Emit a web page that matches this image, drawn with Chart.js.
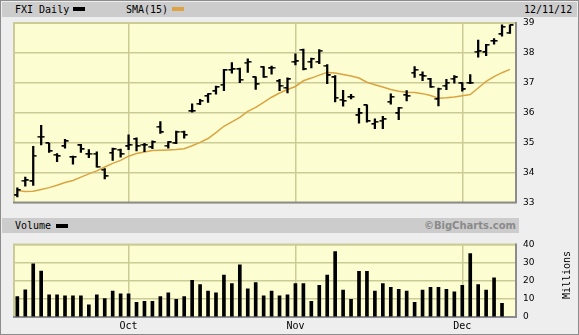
<!DOCTYPE html>
<html>
<head>
<meta charset="utf-8">
<script src="https://cdn.jsdelivr.net/npm/chart.js@4/dist/chart.umd.min.js"></script>
<style>
html, body { margin: 0; padding: 0; background: #eeeeee; }
#wrap { position: relative; width: 579px; height: 335px; overflow: hidden; background: #eeeeee;
  box-shadow: inset 0 0 0 1px #8c8c8c; font-family: "DejaVu Sans Mono", monospace; font-size: 10px; }
.strip { position: absolute; background: #cccccc; }
.txt { position: absolute; white-space: nowrap; line-height: 12px; color: #000; }
.sw { position: absolute; width: 12px; height: 4px; }
canvas { position: absolute; left: 0; }
</style>
</head>
<body>
<div id="wrap">
  <canvas id="price" width="579" height="215" style="top:0"></canvas>
  <canvas id="volume" width="579" height="103" style="top:232px"></canvas>

  <div class="strip" style="left:2px;top:2px;width:575px;height:15px"></div>
  <div class="txt" style="left:15px;top:4px">FXI Daily</div>
  <div class="sw" style="left:73px;top:7px;background:#000"></div>
  <div class="txt" style="left:126px;top:4px">SMA(15)</div>
  <div class="sw" style="left:172px;top:7px;background:#dda244"></div>
  <div class="txt" style="left:524px;top:4px">12/11/12</div>

  <div class="strip" style="left:2px;top:218px;width:517px;height:15px"></div>
  <div class="txt" style="left:15px;top:220px">Volume</div>
  <div class="sw" style="left:56px;top:224px;background:#000"></div>
  <div class="txt" style="right:63px;top:220px;font-family:'DejaVu Sans';font-weight:bold;color:#8a8a8a">©BigCharts.com</div>
  <div class="txt" style="left:537px;top:269px;width:60px;text-align:center;transform:rotate(-90deg)">Millions</div>
</div>

<script>
// FXI daily, 9/11/12 - 12/11/12
var dates = ['9/11','9/12','9/13','9/14','9/17','9/18','9/19','9/20','9/21','9/24','9/25','9/26','9/27','9/28',
  '10/1','10/2','10/3','10/4','10/5','10/8','10/9','10/10','10/11','10/12','10/15','10/16','10/17','10/18','10/19',
  '10/22','10/23','10/24','10/25','10/26','10/31',
  '11/1','11/2','11/5','11/6','11/7','11/8','11/9','11/12','11/13','11/14','11/15','11/16','11/19','11/20','11/21',
  '11/23','11/26','11/27','11/28','11/29','11/30',
  '12/3','12/4','12/5','12/6','12/7','12/10','12/11'];

var opens = [33.24,33.73,33.71,35.20,34.98,34.60,34.88,34.52,34.91,34.62,34.64,34.10,34.66,34.77,
  34.88,35.12,34.93,34.85,35.53,34.90,34.98,35.37,36.05,36.30,36.56,36.72,36.94,37.43,37.46,
  37.68,37.18,37.52,37.48,37.05,36.83,
  37.70,38.10,37.70,37.70,37.58,37.18,36.44,36.53,35.91,36.25,35.62,35.74,36.37,35.98,36.59,
  37.34,37.26,37.12,36.45,36.90,37.14,
  36.98,37.00,38.04,38.02,38.40,38.62,38.68];
var highs = [33.49,33.85,34.88,35.58,34.99,34.64,35.11,34.55,34.95,34.77,34.70,34.14,34.82,34.79,
  35.26,35.16,34.98,35.06,35.71,35.04,35.39,35.39,36.30,36.45,36.64,36.89,37.45,37.68,37.49,
  37.80,37.20,37.54,37.56,37.12,37.17,
  37.97,38.13,37.83,38.11,37.61,37.24,36.75,36.62,36.15,36.27,35.80,35.88,36.63,36.18,36.74,
  37.54,37.37,37.15,36.83,37.12,37.24,
  37.01,37.28,38.43,38.29,38.48,38.94,38.94];
var lows = [33.19,33.55,33.57,34.93,34.68,34.37,34.82,34.28,34.68,34.50,34.18,33.79,34.41,34.52,
  34.77,34.73,34.70,34.80,35.31,34.82,34.97,35.15,36.02,36.27,36.35,36.62,36.74,37.32,37.01,
  37.35,36.78,37.18,37.29,36.74,36.66,
  37.60,37.43,37.50,37.64,36.97,36.36,36.22,36.46,35.65,35.69,35.47,35.47,36.29,35.77,36.40,
  37.18,37.07,36.85,36.23,36.77,36.99,
  36.72,36.97,37.86,37.91,38.29,38.56,38.65];
var closes = [33.42,33.74,34.57,35.20,34.72,34.55,35.05,34.52,34.78,34.64,34.20,33.88,34.78,34.62,
  34.92,34.88,34.93,35.02,35.35,35.01,35.37,35.26,36.06,36.40,36.63,36.86,37.42,37.45,37.10,
  37.70,36.95,37.19,37.50,36.90,37.12,
  37.72,37.45,37.80,38.08,37.25,36.50,36.40,36.53,35.98,35.72,35.70,35.78,36.53,36.17,36.55,
  37.43,37.22,36.86,36.81,37.00,37.18,
  36.78,37.00,38.05,38.27,38.40,38.87,38.92];
var sma15 = [33.40,33.37,33.38,33.44,33.50,33.58,33.67,33.74,33.85,33.96,34.06,34.19,34.31,34.41,
  34.55,34.64,34.69,34.74,34.75,34.76,34.77,34.80,34.90,35.01,35.14,35.34,35.55,35.70,35.85,
  36.05,36.18,36.35,36.52,36.66,36.78,
  36.88,37.07,37.16,37.26,37.35,37.33,37.28,37.23,37.16,37.02,36.94,36.86,36.78,36.72,36.69,
  36.68,36.64,36.58,36.49,36.50,36.53,
  36.57,36.61,36.83,37.05,37.21,37.34,37.45];
// volume, millions of shares
var volumes = [11.2,15.0,29.3,25.3,12.2,12.2,11.7,11.7,11.7,6.7,12.2,10.2,14.3,12.8,
  12.8,8.1,8.6,8.6,11.2,13.3,9.7,11.2,20.2,17.9,14.3,13.3,23.1,18.4,28.8,
  15.5,19.0,11.7,14.3,11.7,12.2,
  18.4,18.4,8.6,17.4,23.1,36.0,14.8,9.7,25.2,25.2,14.3,18.4,16.4,15.3,14.3,
  8.1,14.8,16.4,16.4,15.3,
  13.8,17.4,35.0,17.9,14.8,21.6,7.6];
var monthLabels = ['Oct', 'Nov', 'Dec'];

// first trading day of each new month -> vertical grid + label
var monthStarts = [];
dates.forEach(function(d, i) {
  if (i > 0 && d.split('/')[0] !== dates[i - 1].split('/')[0]) monthStarts.push(i);
});

var GRID = '#cbcb95';
var xMin = -0.42, xMax = 62.76;

Chart.defaults.font.family = 'DejaVu Sans';
Chart.defaults.animation = false;

function tickImage(side) {
  var c = document.createElement('canvas');
  c.width = 8; c.height = 2;
  var g = c.getContext('2d');
  g.fillStyle = '#000';
  g.fillRect(side == 'left' ? 0.5 : 4, 0, 3.5, 1.6);
  return c;
}

function points(arr) {
  return arr.map(function(v, i) { return {x: i, y: v}; });
}

var plotFrame = {
  id: 'plotFrame',
  beforeDraw: function(chart) {
    var a = chart.chartArea, ctx = chart.ctx;
    ctx.save();
    ctx.fillStyle = '#fdfdd2';
    ctx.fillRect(a.left, a.top, a.right - a.left, a.bottom - a.top);
    ctx.restore();
  },
  beforeDatasetsDraw: function(chart) {
    var a = chart.chartArea, ctx = chart.ctx;
    ctx.save();
    ctx.lineWidth = 2;
    ctx.strokeStyle = GRID;
    ctx.beginPath();
    ctx.moveTo(a.left, a.bottom); ctx.lineTo(a.left, a.top); ctx.lineTo(a.right, a.top);
    ctx.stroke();
    ctx.strokeStyle = '#8c8c8c';
    ctx.beginPath();
    ctx.moveTo(a.left - 1, a.bottom); ctx.lineTo(a.right, a.bottom); ctx.lineTo(a.right, a.top - 1);
    ctx.stroke();
    ctx.restore();
  }
};

function xScale(showLabels) {
  return {
    type: 'linear',
    min: xMin,
    max: xMax,
    offset: false,
    afterBuildTicks: function(s) { s.ticks = monthStarts.map(function(v) { return {value: v}; }); },
    ticks: {
      display: showLabels,
      autoSkip: false,
      maxRotation: 0,
      padding: 3,
      color: '#000',
      font: {family: 'DejaVu Sans Mono', size: 10},
      callback: function(v, i) { return monthLabels[i]; }
    },
    grid: {color: GRID, lineWidth: 1.5, drawTicks: false, offset: false},
    border: {display: false},
    afterFit: function(s) { s.height = showLabels ? 18 : 0; }
  };
}

function yScale(min, max, step) {
  return {
    position: 'right',
    min: min,
    max: max,
    ticks: {stepSize: step, padding: 7, color: '#000', font: {size: 9}},
    grid: {color: GRID, lineWidth: 1.5, drawTicks: false},
    border: {display: false},
    afterFit: function(s) { s.width = 63; }
  };
}

new Chart(document.getElementById('price'), {
  type: 'bar',
  data: {
    datasets: [
      {type: 'line', data: points(sma15), borderColor: '#d9a441', borderWidth: 1.5,
        pointRadius: 0, tension: 0, order: 3},
      {type: 'bar', data: highs.map(function(h, i) { return {x: i, y: [lows[i], h]}; }),
        backgroundColor: '#000', barThickness: 1.6, order: 2},
      {type: 'line', data: points(opens), showLine: false, pointStyle: tickImage('left'), order: 1},
      {type: 'line', data: points(closes), showLine: false, pointStyle: tickImage('right'), order: 1}
    ]
  },
  options: {
    responsive: false,
    devicePixelRatio: 1,
    layout: {padding: {left: 14, top: 23, right: 0, bottom: 7.5}},
    plugins: {legend: {display: false}, tooltip: {enabled: false}},
    scales: {x: xScale(false), y: yScale(33, 39, 1)}
  },
  plugins: [plotFrame]
});

new Chart(document.getElementById('volume'), {
  type: 'bar',
  data: {
    datasets: [
      {data: points(volumes), backgroundColor: '#000', barThickness: 3}
    ]
  },
  options: {
    responsive: false,
    devicePixelRatio: 1,
    layout: {padding: {left: 14, top: 7.3, right: 0, bottom: 0}},
    plugins: {legend: {display: false}, tooltip: {enabled: false}},
    scales: {x: xScale(true), y: yScale(0, 40, 10)}
  },
  plugins: [plotFrame]
});
</script>
</body>
</html>
